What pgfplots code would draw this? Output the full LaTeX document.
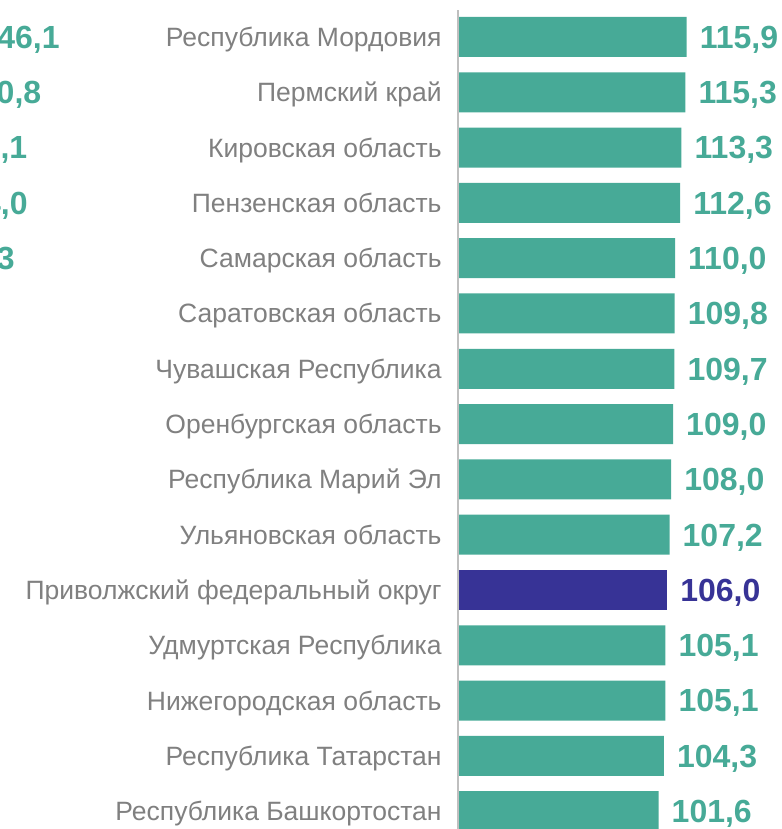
\documentclass[border=0pt]{standalone}
\usepackage{fontspec}
\setmainfont{Liberation Sans}
\usepackage{pgfplots}
\pgfplotsset{compat=1.18}
\definecolor{mygreen}{RGB}{71,170,151}
\definecolor{mypurple}{RGB}{55,51,150}
\definecolor{labelgray}{RGB}{128,128,128}
\definecolor{axisgray}{RGB}{191,191,191}
\begin{document}
\begin{tikzpicture}
\useasboundingbox (0,0) rectangle (782bp,829bp);
\clip (0,0) rectangle (782bp,829bp);
\begin{axis}[
  at={(0,0)}, anchor=south west,
  scale only axis, width=782bp, height=829bp,
  xmin=-233.8, xmax=164.5, ymin=-0.322, ymax=14.669,
  xbar, bar width=0.723, bar shift=0pt,
  axis line style={draw=none}, tick style={draw=none},
  xtick=\empty,
  ytick={0,...,14},
  yticklabels={Республика Башкортостан,Республика Татарстан,Нижегородская область,Удмуртская Республика,Приволжский федеральный округ,Ульяновская область,Республика Марий Эл,Оренбургская область,Чувашская Республика,Саратовская область,Самарская область,Пензенская область,Кировская область,Пермский край,Республика Мордовия},
  yticklabel style={font=\fontsize{26.5bp}{30bp}\selectfont, text=labelgray, anchor=base east, inner sep=0pt, xshift=446bp, yshift=-9.5bp},
  /pgf/number format/assume math mode=true,
  /pgf/number format/fixed, /pgf/number format/fixed zerofill,
  /pgf/number format/precision=1, /pgf/number format/use comma,
  nodes near coords,
  nodes near coords style={font=\bfseries\fontsize{32bp}{36bp}\selectfont, anchor=base west, inner sep=0pt, xshift=13bp, yshift=-11.4bp},
]
\draw[color=axisgray, line width=2.5bp] (axis cs:-0.6,-0.322) -- (axis cs:-0.6,14.49);
\addplot[fill=mygreen, draw=none, every node near coord/.append style={text=mygreen}] coordinates {
(101.6,0) (104.3,1) (105.1,2) (105.1,3) (107.2,5) (108.0,6) (109.0,7) (109.7,8) (109.8,9) (110.0,10) (112.6,11) (113.3,12) (115.3,13) (115.9,14)
};
\addplot[fill=mypurple, draw=none, every node near coord/.append style={text=mypurple}] coordinates {
(106.0,4)
};
\begin{scope}[every node/.style={font=\bfseries\fontsize{32bp}{36bp}\selectfont, text=mygreen, anchor=base east, inner sep=0pt, yshift=-11.4bp}]
\node at (axis cs:-203.3,14) {146,1};
\node at (axis cs:-212.7,13) {130,8};
\node at (axis cs:-219.8,12) {125,1};
\node at (axis cs:-219.6,11) {124,0};
\node at (axis cs:-226.2,10) {120,3};
\end{scope}
\end{axis}
\end{tikzpicture}
\end{document}
